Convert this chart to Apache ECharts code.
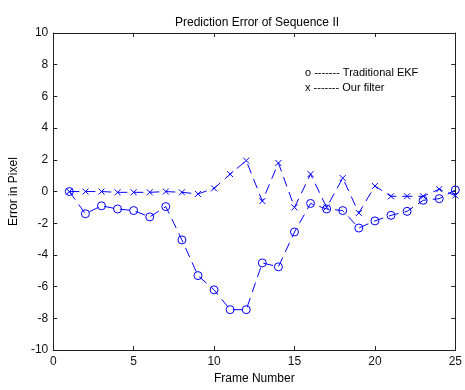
<!DOCTYPE html>
<html>
<head>
<meta charset="utf-8">
<script src="https://cdn.jsdelivr.net/npm/echarts@6/dist/echarts.min.js"></script>
<style>html,body{margin:0;padding:0;background:#fff;}#c{width:465px;height:390px;}</style>
</head>
<body>
<div id="c"></div>
<script>
var frames = [1,2,3,4,5,6,7,8,9,10,11,12,13,14,15,16,17,18,19,20,21,22,23,24,25];
var ekfError = [0,-1.4,-0.9,-1.1,-1.2,-1.6,-0.95,-3.05,-5.3,-6.2,-7.45,-7.45,-4.5,-4.75,-2.55,-0.75,-1.1,-1.2,-2.3,-1.85,-1.5,-1.25,-0.55,-0.45,0.1];
var ourError = [0,0,0,-0.05,-0.05,-0.05,0,-0.05,-0.15,0.2,1.1,1.95,-0.6,1.8,-1.0,1.1,-1.0,0.85,-1.35,0.35,-0.3,-0.3,-0.3,0.15,-0.25];
var xTicks = [0,5,10,15,20,25];
var yTicks = [-10,-8,-6,-4,-2,0,2,4,6,8,10];
var legendLines = ['o ------- Traditional EKF', 'x ------- Our filter'];

var ekfData = frames.map(function(f,i){return [f, ekfError[i]];});
var ourData = frames.map(function(f,i){return [f, ourError[i]];});
var FONT = 'Liberation Sans, Arial, sans-serif';
var blue = '#0000ff';
function axisCommon() {
  return {
    axisLine: {show: true, onZero: false, lineStyle: {color: '#222', width: 1}},
    axisTick: {show: true, inside: true, length: 4, lineStyle: {color: '#222'}},
    splitLine: {show: false}
  };
}
var chart = echarts.init(document.getElementById('c'), null, {renderer: 'canvas'});
chart.setOption({
  animation: false,
  backgroundColor: '#fff',
  title: {
    text: 'Prediction Error of Sequence II',
    left: 252, top: 12, textAlign: 'center',
    textStyle: {fontFamily: FONT, fontSize: 12, fontWeight: 'normal', color: '#000'}
  },
  grid: {left: 48, top: 33, right: 8, bottom: 36, show: false},
  xAxis: [
    Object.assign({
      type: 'value', min: 0, max: 25, interval: 5, position: 'bottom',
      name: 'Frame Number', nameLocation: 'middle', nameGap: 21,
      nameTextStyle: {fontFamily: FONT, fontSize: 12, color: '#000'},
      axisLabel: {fontFamily: FONT, fontSize: 12, color: '#111', margin: 6}
    }, axisCommon()),
    Object.assign({
      type: 'value', min: 0, max: 25, interval: 5, position: 'top',
      axisLabel: {show: false}
    }, axisCommon())
  ],
  yAxis: [
    Object.assign({
      type: 'value', min: -10, max: 10, interval: 2, position: 'left',
      name: 'Error in Pixel', nameLocation: 'middle', nameGap: 30,
      nameTextStyle: {fontFamily: FONT, fontSize: 12, color: '#000'},
      axisLabel: {fontFamily: FONT, fontSize: 12, color: '#111', margin: 5}
    }, axisCommon()),
    Object.assign({
      type: 'value', min: -10, max: 10, interval: 2, position: 'right',
      axisLabel: {show: false}
    }, axisCommon())
  ],
  graphic: legendLines.map(function(t, i){
    return {type: 'text', left: 305, top: 67 + i*15,
      style: {text: t, fontFamily: FONT, fontSize: 11, fill: '#000'}};
  }),
  series: [
    {
      name: 'Traditional EKF', type: 'line', data: ekfData,
      symbol: 'circle', symbolSize: 8, showAllSymbol: true,
      lineStyle: {color: blue, width: 1, type: [10,6]},
      itemStyle: {color: 'rgba(0,0,0,0)', borderColor: blue, borderWidth: 1}
    },
    {
      name: 'Our filter', type: 'line', data: ourData,
      symbol: 'path://M0,0L10,10M10,0L0,10', symbolSize: 6, showAllSymbol: true,
      lineStyle: {color: blue, width: 1, type: [10,6]},
      itemStyle: {color: 'rgba(0,0,0,0)', borderColor: blue, borderWidth: 1}
    }
  ]
});
</script>
</body>
</html>
